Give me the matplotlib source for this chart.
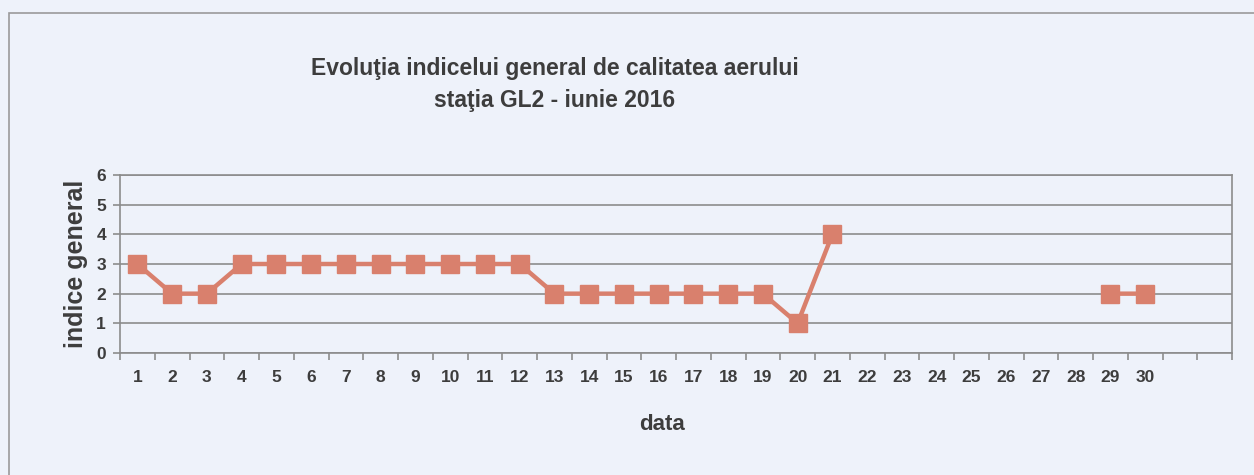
import matplotlib.pyplot as plt
from matplotlib.patches import Rectangle
import numpy as np

# ziua lunii si indicele general (nan = lipsa date)
zile = [str(d) for d in range(1, 31)] + ["", ""]
indice = [3, 2, 2, 3, 3, 3, 3, 3, 3, 3, 3, 3,
          2, 2, 2, 2, 2, 2, 2, 1, 4,
          np.nan, np.nan, np.nan, np.nan, np.nan, np.nan, np.nan,
          2, 2, np.nan, np.nan]
y_ticks = [0, 1, 2, 3, 4, 5, 6]

bg = "#eef2fa"
txt = "#3d3d3d"
grid_c = "#8c8c8c"
serie_c = "#d9806d"

narrow = ["Liberation Sans Narrow", "Liberation Sans", "DejaVu Sans"]

fig = plt.figure(figsize=(12.54, 4.75), dpi=100)
fig.patch.set_facecolor(bg)

# chenarul graficului
fig.patches.append(Rectangle((9 / 1254, -0.1), 1.2, 1 - 13 / 475 + 0.1,
                             transform=fig.transFigure, fill=False,
                             edgecolor="#9a9a9a", linewidth=1.2))

ax = fig.add_axes([120 / 1254, 1 - 353 / 475, (1232 - 120) / 1254, (353 - 175) / 475])
ax.set_facecolor(bg)

x = np.arange(len(zile))
ax.plot(x, indice, color=serie_c, linewidth=3.2, marker="s", markersize=13,
        markeredgecolor=serie_c, markerfacecolor=serie_c, zorder=3)

ax.set_xlim(-0.5, len(zile) - 0.5)
ax.set_ylim(0, 6)
ax.set_yticks(y_ticks)
ax.set_yticklabels([str(v) for v in y_ticks], family=narrow, fontweight="bold",
                   fontsize=12.5, color=txt)
ax.set_xticks(x)
ax.set_xticklabels(zile, family=narrow, fontweight="bold", fontsize=12.5, color=txt)
ax.set_xticks(np.arange(-0.5, len(zile), 1), minor=True)
ax.tick_params(axis="x", which="major", length=0, pad=12)
ax.tick_params(axis="x", which="minor", length=5, color=grid_c, width=1.2)
ax.tick_params(axis="y", length=5, color=grid_c, width=1.2, pad=5)

ax.grid(axis="y", color=grid_c, linewidth=1.2)
ax.set_axisbelow(True)
for s in ax.spines.values():
    s.set_color(grid_c)
    s.set_linewidth(1.2)

ax.set_ylabel("indice general", family=["Liberation Sans", "DejaVu Sans"],
              fontweight="bold", fontsize=18, color=txt, labelpad=6)
fig.text(662 / 1254, 1 - 424 / 475, "data", family=narrow, fontweight="bold",
         fontsize=16, color=txt, ha="center", va="center")

fig.text(555 / 1254, 1 - 84 / 475,
         "Evoluţia indicelui general de calitatea aerului\nstaţia GL2 - iunie 2016",
         family=narrow, fontweight="bold", fontsize=16.5, color=txt,
         ha="center", va="center", linespacing=1.5)

fig.savefig("out.png", dpi=100, facecolor=bg)
